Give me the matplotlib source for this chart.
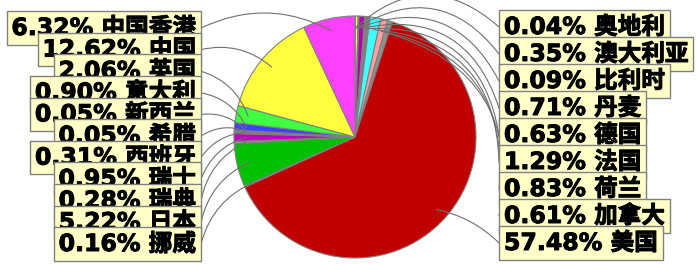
import numpy as np
import matplotlib
matplotlib.use("Agg")
import matplotlib.pyplot as plt
import matplotlib.patheffects as pe

plt.rcParams['font.family'] = ['DejaVu Sans', 'Noto Sans CJK SC']

# slices, clockwise from 12 o'clock
countries = ["奥地利", "澳大利亚", "比利时", "丹麦", "德国", "法国", "荷兰", "加拿大",
             "美国", "挪威", "日本", "瑞典", "瑞士", "西班牙", "希腊", "新西兰",
             "意大利", "英国", "中国", "中国香港"]
shares = [0.04, 0.35, 0.09, 0.71, 0.63, 1.29, 0.83, 0.61,
          57.48, 0.16, 5.22, 0.28, 0.95, 0.31, 0.05, 0.05,
          0.90, 2.06, 12.62, 6.32]
colors = ["#a0a0a0", "#ffff40", "#909090", "#b000b0", "#808080", "#40ffff", "#ffa0a0", "#909090",
          "#c00000", "#909090", "#00c000", "#909090", "#c000c0", "#708090", "#404040", "#909090",
          "#4040ff", "#40ff40", "#ffff40", "#ff40ff"]

W, H = 696, 264
fig = plt.figure(figsize=(W / 100, H / 100), dpi=100)
ax = fig.add_axes([0, 0, 1, 1])

cx, cy, r = 355, H - 137, 121
wedges, _ = ax.pie(shares, colors=colors, startangle=90, counterclock=False,
                   center=(cx, cy), radius=r, frame=True,
                   wedgeprops=dict(edgecolor="#808080", linewidth=0.8))
ax.set_xlim(0, W)
ax.set_ylim(0, H)
ax.set_aspect("equal")
ax.axis("off")

n_right = 9
right_y = np.linspace(H - 27, H - 243, n_right)
left_y = np.linspace(H - 244, H - 28, len(countries) - n_right)

box = dict(boxstyle="square,pad=0.2", facecolor="#ffffc8", edgecolor="#808080", linewidth=1)
bold = [pe.withStroke(linewidth=0.7, foreground="black")]
for i, (w, name, v) in enumerate(zip(wedges, countries, shares)):
    ang = np.deg2rad((w.theta1 + w.theta2) / 2)
    px, py = cx + 0.9 * r * np.cos(ang), cy + 0.9 * r * np.sin(ang)
    label = f"{v:.2f}% {name}"
    if i < n_right:
        ty = right_y[i]
        tx, ha, ex = 504, "left", 499
        rad = 0.15 if name == "美国" else 0.45
    else:
        ty = left_y[i - n_right]
        tx, ha, ex = 196, "right", 201
        rad = -0.25
    # leader line under the boxes
    ax.annotate("", xy=(px, py), xytext=(ex, ty), zorder=5,
                arrowprops=dict(arrowstyle="-", color="#707070", linewidth=0.8,
                                shrinkA=0, shrinkB=0,
                                connectionstyle=f"arc3,rad={rad}"))
    t = ax.text(tx, ty, label, ha=ha, va="center", fontsize=17, fontweight="bold",
                bbox=box, zorder=10 + (H - ty) / 10)
    t.set_path_effects(bold)

fig.savefig("out.png", dpi=100)
